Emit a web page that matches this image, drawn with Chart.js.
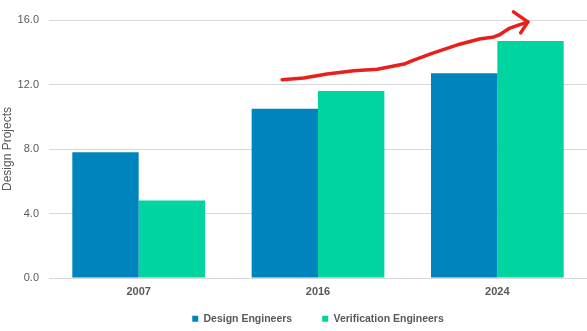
<!DOCTYPE html>
<html>
<head>
<meta charset="utf-8">
<script src="https://cdn.jsdelivr.net/npm/chart.js@4"></script>
<style>
  html, body { margin: 0; padding: 0; background: #fff; }
  #wrap { width: 587px; height: 331px; }
</style>
</head>
<body>
<div id="wrap"><canvas id="myChart"></canvas></div>
<script>
const years = ['2007', '2016', '2024'];
const designEngineers = [7.8, 10.5, 12.7];
const verificationEngineers = [4.8, 11.6, 14.7];
const yTicks = [0, 4, 8, 12, 16];

// hand drawn red arrow, in [category index, value] units
const arrowLine = [[0.8, 12.3], [0.92, 12.4], [1.05, 12.65], [1.2, 12.85], [1.33, 12.95],
  [1.48, 13.27], [1.53, 13.5], [1.64, 13.95], [1.79, 14.5], [1.9, 14.82], [1.98, 14.95],
  [2.01, 15.07], [2.07, 15.5], [2.17, 15.88]];
const arrowHead = [[2.09, 16.5], [2.17, 15.88], [2.13, 15.2]];

const arrowPlugin = {
  id: 'arrow',
  afterDatasetsDraw(chart) {
    const x = chart.scales.x, y = chart.scales.y, c = chart.ctx;
    const px = p => [x.getPixelForValue(p[0]), y.getPixelForValue(p[1])];
    c.save();
    c.strokeStyle = '#e8201c';
    c.lineWidth = 3.5;
    c.lineCap = 'round';
    c.lineJoin = 'round';
    [arrowLine, arrowHead].forEach(path => {
      c.beginPath();
      path.forEach((p, i) => {
        const q = px(p);
        if (i == 0) c.moveTo(q[0], q[1]); else c.lineTo(q[0], q[1]);
      });
      c.stroke();
    });
    c.restore();
  }
};

// legend: keep the wide gap between items but take less room,
// and center it under the plot area
const legendFix = {
  id: 'legendFix',
  beforeLayout(chart) {
    const l = chart.legend;
    if (!l || l._patched) return;
    const fit = l.fit;
    l.fit = function () { fit.call(this); this.height = 28; };
    l._patched = true;
  },
  afterLayout(chart) {
    const l = chart.legend, a = chart.chartArea;
    l.top -= 19.5;
    l.height = l.bottom - l.top;
    l.left = a.left;
    l.right = a.right;
    l.width = a.right - a.left;
    l.adjustHitBoxes();
  }
};

const ctx = document.getElementById('myChart');

var chart = new Chart(ctx, {
  type: 'bar',
  data: {
    labels: years,
    datasets: [{
      label: 'Design Engineers',
      data: designEngineers,
      backgroundColor: '#0084bd',
      borderWidth: 0
    }, {
      label: 'Verification Engineers',
      data: verificationEngineers,
      backgroundColor: '#00d4a0',
      borderWidth: 0
    }]
  },
  options: {
    responsive: true,
    maintainAspectRatio: false,
    animation: false,
    barPercentage: 1,
    categoryPercentage: 0.74,
    layout: { padding: { top: 20, right: 0, left: 0, bottom: 0 } },
    plugins: {
      tooltip: { enabled: false },
      legend: {
        position: 'bottom',
        labels: {
          boxWidth: 6,
          boxHeight: 6,
          padding: 30,
          color: '#595959',
          font: { family: 'Liberation Sans, Arial', size: 10.5, weight: 'bold' }
        }
      }
    },
    scales: {
      x: {
        grid: { display: false, drawTicks: false },
        border: { color: '#d9d9d9' },
        afterFit: s => { s.height = 25; },
        ticks: {
          color: '#595959',
          padding: 7,
          font: { family: 'Liberation Sans, Arial', size: 11, weight: 'bold' }
        }
      },
      y: {
        min: 0,
        max: 16,
        afterBuildTicks: s => { s.ticks = yTicks.map(v => ({ value: v })); },
        afterFit: s => { s.width = 49; },
        border: { display: false },
        grid: { color: '#d9d9d9', drawTicks: false },
        ticks: {
          color: '#595959',
          padding: 10,
          callback: v => v.toFixed(1),
          font: { family: 'Liberation Sans, Arial', size: 11 }
        },
        title: {
          display: true,
          text: 'Design Projects',
          color: '#595959',
          padding: 0,
          font: { family: 'Liberation Sans, Arial', size: 12 }
        }
      }
    }
  },
  plugins: [arrowPlugin, legendFix]
});
</script>
</body>
</html>
